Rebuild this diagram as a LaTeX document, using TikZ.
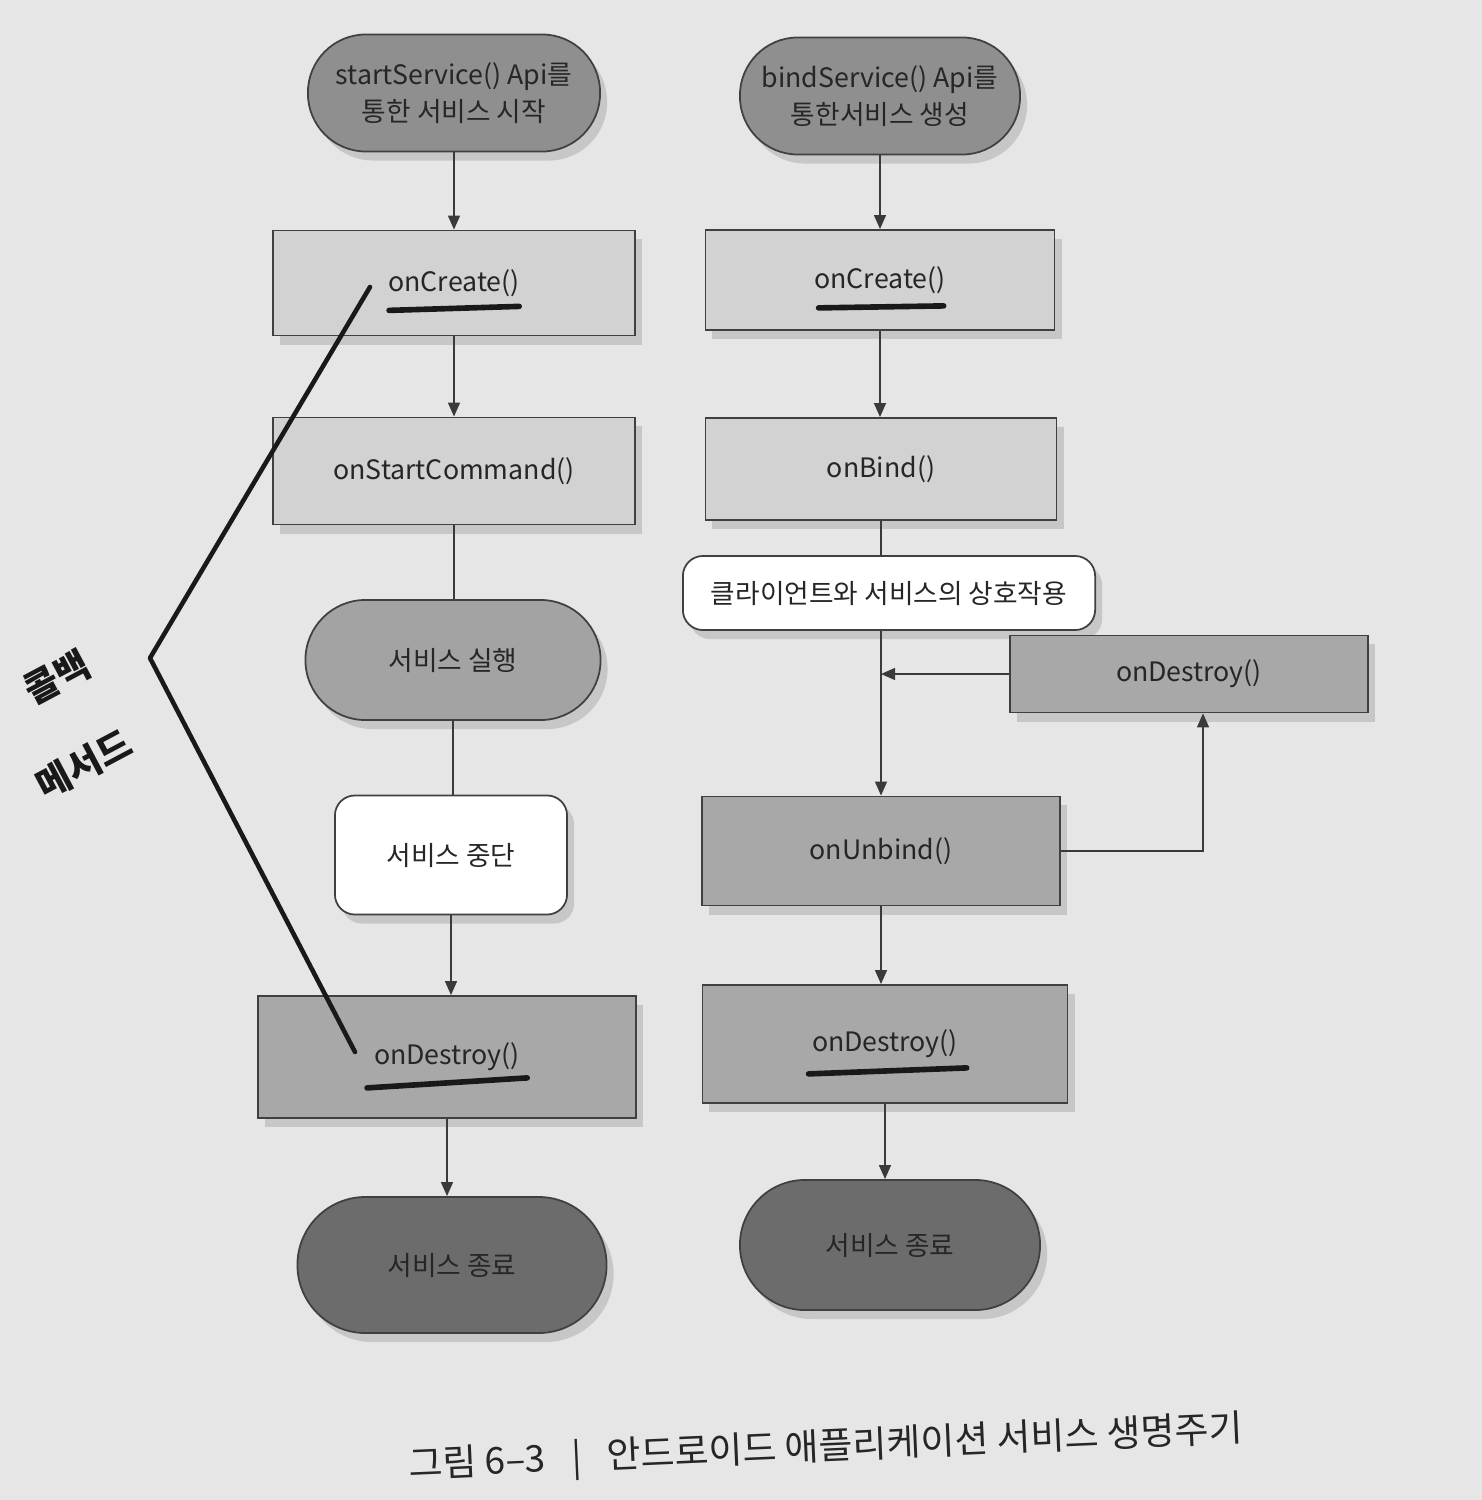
\documentclass[tikz,border=0pt]{standalone}
\usepackage{fontspec}
\setmainfont{Noto Sans CJK KR}
\usetikzlibrary{arrows.meta,shadows}
\definecolor{pagebg}{HTML}{E6E6E6}
\definecolor{darkpill}{HTML}{8F8F8F}
\definecolor{lightbox}{HTML}{D2D2D2}
\definecolor{midpill}{HTML}{A3A3A3}
\definecolor{midbox}{HTML}{A8A8A8}
\definecolor{endpill}{HTML}{6C6C6C}
\definecolor{inkline}{HTML}{3A3A3A}
\begin{document}
\begin{tikzpicture}[x=0.01cm,y=-0.01cm,
  box/.style={draw=black!75, line width=0.5pt, align=center, text=black!85,
    font=\fontsize{7.6}{10.5}\selectfont,
    drop shadow={opacity=0.3, shadow xshift=0.7mm, shadow yshift=-0.9mm}},
  pill/.style={box, rounded corners=#1},
  softbox/.style={box, fill=white, rounded corners=0.2cm},
  arr/.style={draw=inkline, line width=0.5pt, -{Triangle[length=4pt,width=3.4pt]}},
  ln/.style={draw=inkline, line width=0.5pt},
  hand/.style={draw=black!90, line width=1.3pt, line cap=round, line join=round},
  handtext/.style={font=\fontsize{10.5}{12}\selectfont\bfseries, text=black!90, rotate=28, inner sep=0pt}
]
\fill[pagebg] (0,0) rectangle (1482,1500);
\useasboundingbox (0,0) rectangle (1482,1500);

% left column
\node[pill=0.58cm, fill=darkpill, minimum width=2.92cm, minimum height=1.17cm] (sL) at (454,93) {startService() Api를\\통한 서비스 시작};
\node[box, fill=lightbox, minimum width=3.62cm, minimum height=1.05cm] (cL) at (454,283) {onCreate()};
\node[box, fill=lightbox, minimum width=3.62cm, minimum height=1.07cm] (scL) at (454,471) {onStartCommand()};
\node[pill=0.6cm, fill=midpill, minimum width=2.95cm, minimum height=1.2cm] (runL) at (453,660) {서비스 실행};
\node[softbox, minimum width=2.32cm, minimum height=1.19cm] (stopL) at (451,855) {서비스 중단};
\node[box, fill=midbox, minimum width=3.78cm, minimum height=1.22cm] (dL) at (447,1057) {onDestroy()};
\node[pill=0.68cm, fill=endpill, minimum width=3.09cm, minimum height=1.36cm] (endL) at (452,1265) {서비스 종료};

% right column
\node[pill=0.58cm, fill=darkpill, minimum width=2.8cm, minimum height=1.17cm] (sR) at (880,96) {bindService() Api를\\통한서비스 생성};
\node[box, fill=lightbox, minimum width=3.49cm, minimum height=1.0cm] (cR) at (880,280) {onCreate()};
\node[box, fill=lightbox, minimum width=3.51cm, minimum height=1.02cm] (bR) at (881,469) {onBind()};
\node[softbox, minimum width=4.12cm, minimum height=0.74cm] (iR) at (889,593) {클라이언트와 서비스의 상호작용};
\node[box, fill=midbox, minimum width=3.58cm, minimum height=0.77cm] (dR1) at (1189,674) {onDestroy()};
\node[box, fill=midbox, minimum width=3.58cm, minimum height=1.09cm] (uR) at (881,851) {onUnbind()};
\node[box, fill=midbox, minimum width=3.65cm, minimum height=1.18cm] (dR2) at (885,1044) {onDestroy()};
\node[pill=0.65cm, fill=endpill, minimum width=3.0cm, minimum height=1.3cm] (endR) at (890,1245) {서비스 종료};

% left connectors
\draw[arr] (sL) -- (sL |- cL.north);
\draw[arr] (cL) -- (cL |- scL.north);
\draw[ln] (scL) -- (scL |- runL.north);
\draw[ln] (runL) -- (runL |- stopL.north);
\draw[arr] (stopL) -- (stopL |- dL.north);
\draw[arr] (dL) -- (dL |- endL.north);

% right connectors
\draw[arr] (sR) -- (sR |- cR.north);
\draw[arr] (cR) -- (cR |- bR.north);
\draw[ln] (bR) -- (bR |- iR.north);
\draw[arr] (bR |- iR.south) -- (bR |- uR.north);
\coordinate (join) at (bR |- dR1.west);
\draw[arr] (dR1.west) -- (join);
\coordinate (up) at ([xshift=0.14cm]dR1.south);
\draw[arr] (uR.east) -| (up);
\draw[arr] (uR) -- (uR |- dR2.north);
\draw[arr] (dR2) -- (dR2 |- endR.north);

% handwritten annotations
\coordinate (h1) at (370,287);
\coordinate (h2) at (150,658);
\coordinate (h3) at (355,1052);
\draw[hand] (h1) -- (h2) -- (h3);
\draw[hand, line width=1.6pt] (cL.south west) ++(1.17cm,0.26cm) coordinate (u1a) -- ++(1.3cm,0.04cm) coordinate (u1b);
\draw[hand, line width=1.6pt] (cR.south west) ++(1.14cm,0.23cm) coordinate (u2a) -- ++(1.25cm,0.02cm) coordinate (u2b);
\draw[hand, line width=1.6pt] (dL.south west) ++(1.1cm,0.31cm) coordinate (u3a) -- ++(1.6cm,0.1cm) coordinate (u3b);
\draw[hand, line width=1.6pt] (dR2.south west) ++(1.07cm,0.3cm) coordinate (u4a) -- ++(1.58cm,0.06cm) coordinate (u4b);
\node[handtext] (cb1) at (57,677) {콜백};
\node[handtext] (cb2) at (84,764) {메서드};

% caption
\node[font=\fontsize{10.5}{13}\selectfont, text=black!85, rotate=2.5] (cap) at (826,1449) {그림 6–3\hspace{0.7em}|\hspace{0.7em}안드로이드 애플리케이션 서비스 생명주기};
\end{tikzpicture}
\end{document}
